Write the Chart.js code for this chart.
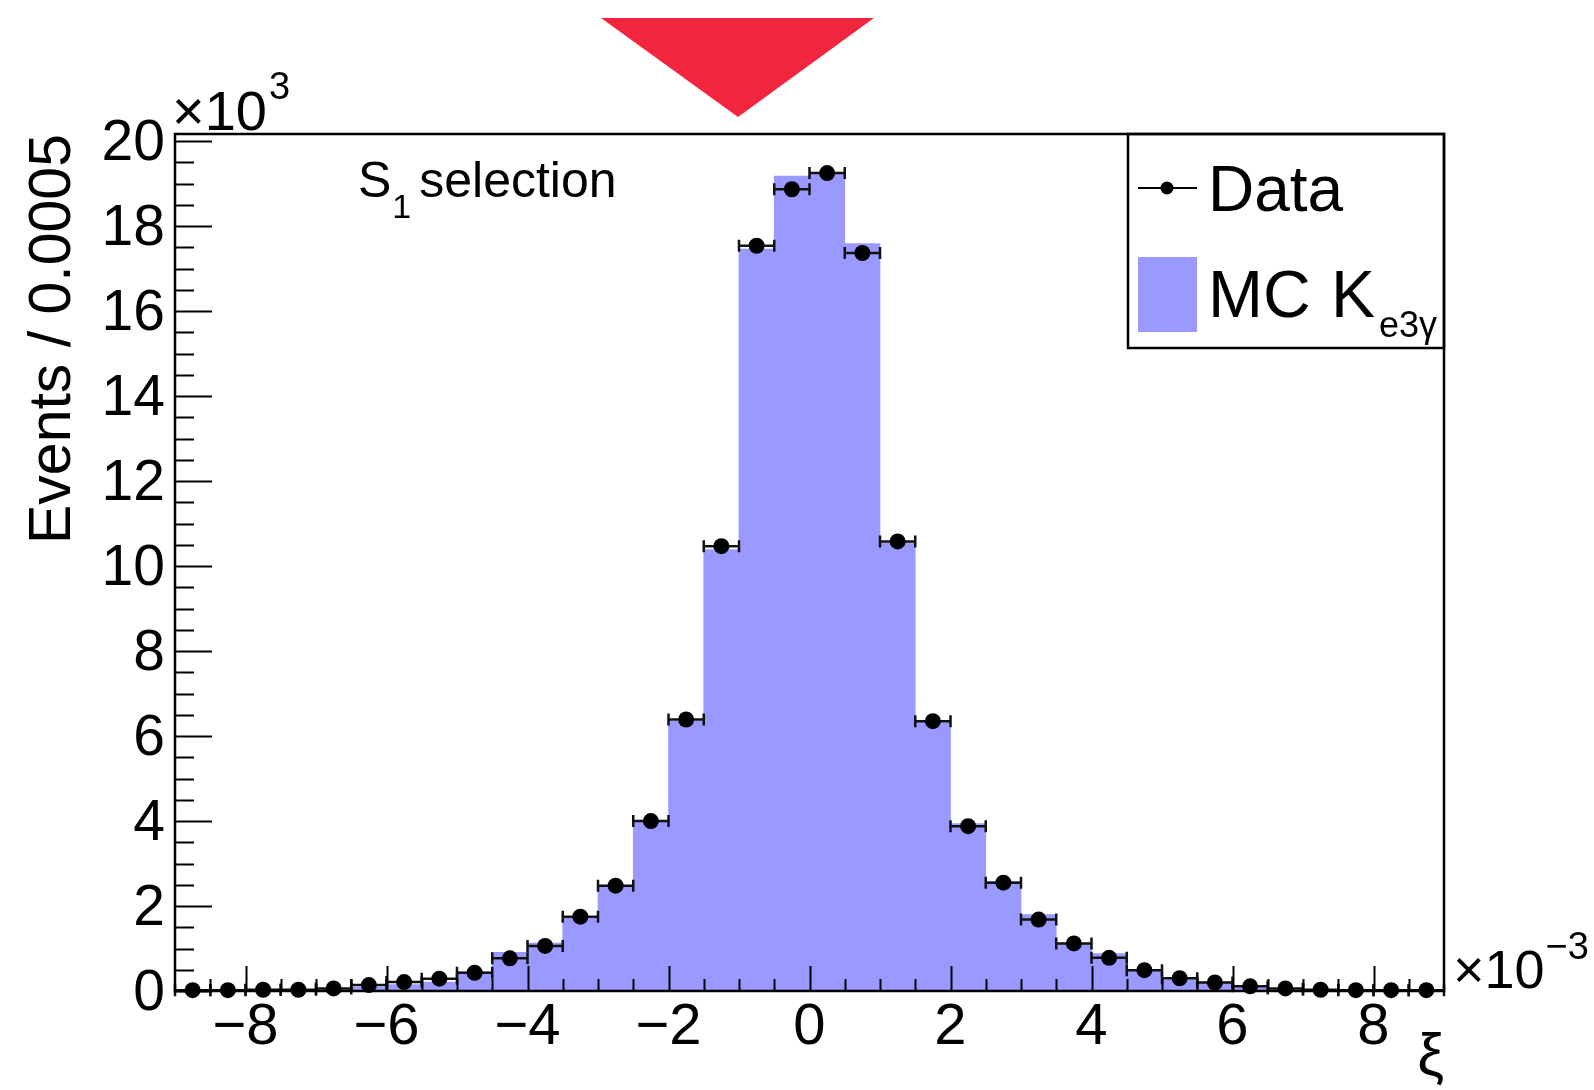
<!DOCTYPE html>
<html>
<head>
<meta charset="utf-8">
<script src="https://cdn.jsdelivr.net/npm/chart.js@4.4.1/dist/chart.umd.min.js"></script>
<style>
  html, body { margin: 0; padding: 0; background: #fff; }
  canvas { display: block; }
</style>
</head>
<body>
<canvas id="chart" width="1594" height="1090"></canvas>
<script>
// xi distribution, S1 selection. x in units of 1e-3, y in units of 1e3 events
const binCenters = [
  -8.75, -8.25, -7.75, -7.25, -6.75, -6.25, -5.75, -5.25, -4.75, -4.25, -3.75, -3.25,
  -2.75, -2.25, -1.75, -1.25, -0.75, -0.25, 0.25, 0.75, 1.25, 1.75, 2.25, 2.75,
  3.25, 3.75, 4.25, 4.75, 5.25, 5.75, 6.25, 6.75, 7.25, 7.75, 8.25, 8.75
];
const binWidth = 0.5;

const dataValues = [
  0.02, 0.02, 0.03, 0.03, 0.06, 0.14, 0.21, 0.29, 0.43, 0.77, 1.06, 1.75,
  2.48, 4.00, 6.39, 10.47, 17.54, 18.87, 19.25, 17.37, 10.58, 6.35, 3.88, 2.55,
  1.68, 1.12, 0.78, 0.49, 0.30, 0.20, 0.11, 0.06, 0.03, 0.02, 0.02, 0.02
];

const mcValues = [
  0.01, 0.01, 0.02, 0.03, 0.05, 0.09, 0.15, 0.21, 0.45, 0.91, 1.13, 1.74,
  2.48, 3.98, 6.35, 10.39, 17.46, 19.18, 19.22, 17.59, 10.55, 6.35, 3.94, 2.58,
  1.80, 1.13, 0.88, 0.51, 0.27, 0.21, 0.12, 0.06, 0.03, 0.02, 0.01, 0.01
];

const xTicks = [-8, -6, -4, -2, 0, 2, 4, 6, 8];
const yTicks = [0, 2, 4, 6, 8, 10, 12, 14, 16, 18, 20];

const FONT = "'Liberation Sans', Arial, Helvetica, sans-serif";
const MC_COLOR = "#9999ff";

// error bars of the data points, drawn between the histogram and the markers
const errorBars = {
  id: "errorBars",
  beforeDatasetDraw(chart, args) {
    if (args.index !== 0) return;
    const { ctx, scales: { x, y } } = chart;
    ctx.save();
    ctx.strokeStyle = "#111";
    ctx.lineWidth = 2.5;
    binCenters.forEach((c, i) => {
      const v = dataValues[i];
      const err = Math.sqrt(v * 1000) / 1000;
      const px = x.getPixelForValue(c);
      const xl = x.getPixelForValue(c - binWidth / 2);
      const xr = x.getPixelForValue(c + binWidth / 2);
      const py = y.getPixelForValue(v);
      ctx.beginPath();
      ctx.moveTo(xl, py); ctx.lineTo(xr, py);
      ctx.moveTo(xl, py - 6); ctx.lineTo(xl, py + 6);
      ctx.moveTo(xr, py - 6); ctx.lineTo(xr, py + 6);
      ctx.moveTo(px, y.getPixelForValue(v + err));
      ctx.lineTo(px, y.getPixelForValue(Math.max(v - err, 0)));
      ctx.stroke();
    });
    ctx.restore();
  }
};

// ROOT style frame with inward ticks
const axisFrame = {
  id: "axisFrame",
  afterDatasetsDraw(chart) {
    const { ctx, chartArea: a, scales: { x, y } } = chart;
    ctx.save();
    ctx.strokeStyle = "#000";
    ctx.lineWidth = 2;
    ctx.beginPath();
    for (let k = 0; k * 0.5 <= y.max + 1e-9; k++) {
      const py = Math.round(y.getPixelForValue(k * 0.5)) + 0.5;
      const len = k % 4 === 0 ? 37 : 19;
      ctx.moveTo(a.left, py); ctx.lineTo(a.left + len, py);
    }
    for (let k = -17; k <= 17; k++) {
      const px = Math.round(x.getPixelForValue(k * 0.5)) + 0.5;
      const len = k % 4 === 0 ? 25 : 12;
      ctx.moveTo(px, a.bottom); ctx.lineTo(px, a.bottom - len);
    }
    ctx.stroke();
    ctx.lineWidth = 2.5;
    ctx.strokeRect(a.left, a.top, a.right - a.left, a.bottom - a.top);
    ctx.restore();
  }
};

function text(ctx, str, x, y, size) {
  ctx.font = size + "px " + FONT;
  ctx.fillText(str, x, y);
  return ctx.measureText(str).width;
}

// labels, exponents, legend and the red marker above the plot
const annotations = {
  id: "annotations",
  afterDraw(chart) {
    const { ctx, chartArea: a } = chart;
    ctx.save();
    ctx.fillStyle = "#000";
    ctx.textAlign = "left";
    ctx.textBaseline = "alphabetic";

    // x10^3 on the y axis
    let w = text(ctx, "\u00d710", a.left - 3, 130, 56);
    text(ctx, "3", a.left - 3 + w + 2, 99, 38);

    // x10^-3 on the x axis
    w = text(ctx, "\u00d710", a.right + 9, 988, 54);
    text(ctx, "\u22123", a.right + 9 + w + 1, 959, 38);

    // S1 selection
    w = text(ctx, "S", 358, 197, 50);
    const w1 = text(ctx, "1", 358 + w + 1, 218, 34);
    text(ctx, "selection", 358 + w + w1 + 9, 197, 50);

    // legend
    const lx = a.right - 316, ly = a.top;
    ctx.strokeStyle = "#000";
    ctx.lineWidth = 2.5;
    ctx.strokeRect(lx, ly, 316, 214);
    ctx.lineWidth = 2;
    ctx.beginPath();
    ctx.moveTo(lx + 10, ly + 54); ctx.lineTo(lx + 69, ly + 54);
    ctx.stroke();
    ctx.beginPath();
    ctx.arc(lx + 39, ly + 54, 6.5, 0, Math.PI * 2);
    ctx.fill();
    text(ctx, chart.data.datasets[0].label, lx + 80, ly + 77, 64);
    ctx.fillStyle = MC_COLOR;
    ctx.fillRect(lx + 10, ly + 123, 59, 75);
    ctx.fillStyle = "#000";
    w = text(ctx, "MC", lx + 80, ly + 183, 66);
    w += text(ctx, " K", lx + 80 + w + 2, ly + 183, 66) + 2;
    text(ctx, "e3\u03b3", lx + 80 + w + 4, ly + 203, 36);

    // red marker
    ctx.fillStyle = "#f2253f";
    ctx.beginPath();
    ctx.moveTo(601, 18); ctx.lineTo(874, 18); ctx.lineTo(738, 117);
    ctx.closePath();
    ctx.fill();
    ctx.restore();
  }
};

new Chart(document.getElementById("chart"), {
  type: "bar",
  data: {
    datasets: [
      {
        type: "line",
        label: "Data",
        data: binCenters.map((c, i) => ({ x: c, y: dataValues[i] })),
        showLine: false,
        pointRadius: 8,
        pointBorderWidth: 0,
        pointBackgroundColor: "#000",
        clip: false
      },
      {
        type: "bar",
        label: "MC Ke3\u03b3",
        data: binCenters.map((c, i) => ({ x: c, y: mcValues[i] })),
        backgroundColor: MC_COLOR,
        borderWidth: 0,
        barPercentage: 1,
        categoryPercentage: 1
      }
    ]
  },
  options: {
    responsive: false,
    devicePixelRatio: 1,
    animation: false,
    layout: { padding: { top: 134, right: 150, left: 0, bottom: 0 } },
    plugins: {
      legend: { display: false },
      tooltip: { enabled: false }
    },
    scales: {
      x: {
        type: "linear",
        min: -9,
        max: 9,
        offset: false,
        grid: { display: false, drawTicks: false },
        border: { display: false },
        afterBuildTicks: s => { s.ticks = xTicks.map(v => ({ value: v })); },
        afterFit: s => { s.height = 99; },
        ticks: {
          color: "#000",
          padding: 2,
          maxRotation: 0,
          autoSkip: false,
          font: { family: FONT, size: 58 },
          callback: v => String(v).replace("-", "\u2212")
        },
        title: {
          display: true,
          text: "\u03be",
          align: "end",
          color: "#000",
          font: { family: FONT, size: 60 },
          padding: { top: 0, bottom: -4 }
        }
      },
      y: {
        min: 0,
        max: 20.17,
        grid: { display: false, drawTicks: false },
        border: { display: false },
        afterBuildTicks: s => { s.ticks = yTicks.map(v => ({ value: v })); },
        afterFit: s => { s.width = 175; },
        ticks: {
          color: "#000",
          padding: 10,
          labelOffset: 3,
          autoSkip: false,
          font: { family: FONT, size: 57 }
        },
        title: {
          display: true,
          text: "Events / 0.0005",
          align: "end",
          color: "#000",
          font: { family: FONT, size: 59 },
          padding: { top: 18, bottom: 0 }
        }
      }
    }
  },
  plugins: [errorBars, axisFrame, annotations]
});
</script>
</body>
</html>
